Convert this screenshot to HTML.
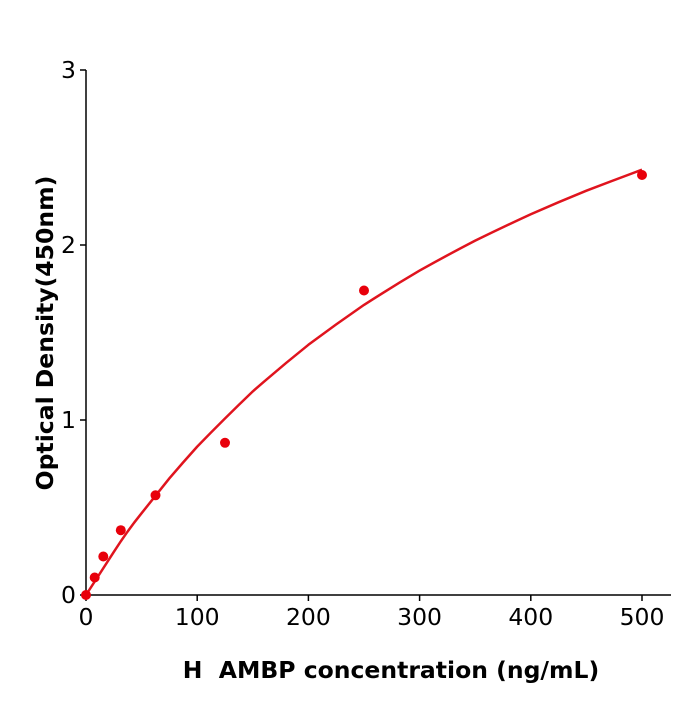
<!DOCTYPE html>
<html><head><meta charset="utf-8"><style>body{margin:0;background:#fff}</style></head><body>
<svg width="700" height="700" xmlns="http://www.w3.org/2000/svg" font-family="'DejaVu Sans','Liberation Sans',sans-serif">
<rect width="700" height="700" fill="#fff"/>
<g stroke="#000" stroke-width="1.5" fill="none">
<line x1="86" y1="70" x2="86" y2="595"/>
<line x1="86" y1="595" x2="671" y2="595"/>
<line x1="80" y1="595" x2="86" y2="595"/><line x1="80" y1="420" x2="86" y2="420"/><line x1="80" y1="245" x2="86" y2="245"/><line x1="80" y1="70" x2="86" y2="70"/>
<line x1="86" y1="595" x2="86" y2="601"/><line x1="197.2" y1="595" x2="197.2" y2="601"/><line x1="308.4" y1="595" x2="308.4" y2="601"/><line x1="419.6" y1="595" x2="419.6" y2="601"/><line x1="530.8" y1="595" x2="530.8" y2="601"/><line x1="642" y1="595" x2="642" y2="601"/>
</g>
<g font-size="23.5" fill="#000" text-anchor="end">
<text x="76" y="603">0</text><text x="76" y="428">1</text><text x="76" y="253">2</text><text x="76" y="78">3</text>
</g>
<g font-size="23.5" fill="#000" text-anchor="middle">
<text x="86" y="625">0</text><text x="197.2" y="625">100</text><text x="308.4" y="625">200</text><text x="419.6" y="625">300</text><text x="530.8" y="625">400</text><text x="642" y="625">500</text>
</g>
<text x="391" y="678" font-size="23.5" font-weight="bold" text-anchor="middle">H&#160; AMBP concentration (ng/mL)</text>
<text transform="translate(53,333) rotate(-90)" font-size="23.5" font-weight="bold" text-anchor="middle">Optical Density(450nm)</text>
<path fill="none" stroke="#e0141e" stroke-width="2.5" d="M86,595 Q99.9,573.5 113.8,551.9 T141.6,513.2 Q155.5,495.7 169.4,478.3 Q183.3,462 197.2,446.6 Q225,418 252.8,391.4 Q280.6,367 308.4,344.8 Q336.2,324 364,304.9 Q391.8,287 419.6,270.6 Q447.4,255 475.2,240.6 Q503,227 530.8,214.2 Q558.6,202 586.4,190.7 Q614.2,180 642,169.7"/>
<g fill="#e8000b">
<circle cx="86" cy="595" r="5"/><circle cx="94.7" cy="577.5" r="5"/><circle cx="103.3" cy="556.5" r="5"/><circle cx="120.8" cy="530.2" r="5"/><circle cx="155.5" cy="495.3" r="5"/><circle cx="225" cy="442.8" r="5"/><circle cx="364" cy="290.5" r="5"/><circle cx="642" cy="175" r="5"/>
</g>
</svg>
</body></html>
